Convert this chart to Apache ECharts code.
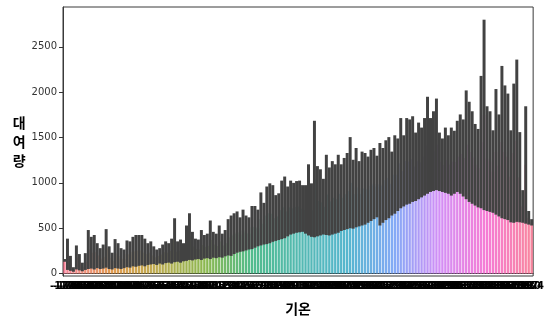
<!DOCTYPE html>
<html>
<head>
<meta charset="utf-8">
<script src="https://cdn.jsdelivr.net/npm/echarts@6/dist/echarts.min.js"></script>
<style>
  html, body { margin: 0; padding: 0; background: #fff; }
  #chart { width: 547px; height: 321px; }
</style>
</head>
<body>
<div id="chart"></div>
<script>
// upper end of the error bar per temperature category
const ciHigh = [
  160, 385, 195, 70, 310, 215, 120, 225, 480, 405,
  425, 335, 280, 320, 490, 300, 230, 380, 335, 280,
  265, 365, 355, 405, 425, 425, 425, 385, 335, 355,
  300, 265, 280, 320, 355, 335, 385, 610, 355, 375,
  335, 530, 665, 460, 385, 375, 480, 425, 440, 585,
  460, 440, 530, 440, 480, 600, 640, 665, 685, 620,
  705, 640, 620, 745, 745, 705, 895, 780, 960, 995,
  975, 865, 885, 1025, 1070, 960, 1025, 1000, 1020, 1025,
  975, 975, 1205, 995, 1685, 1185, 1150, 1045, 1310, 1170,
  1240, 1205, 1310, 1205, 1275, 1330, 1505, 1255, 1385, 1240,
  1345, 1330, 1290, 1365, 1385, 1300, 1440, 1385, 1470, 1505,
  1345, 1525, 1490, 1715, 1525, 1715, 1700, 1735, 1555, 1665,
  1610, 1715, 1950, 1715, 1790, 1930, 1555, 1490, 1610, 1525,
  1610, 1575, 1685, 1755, 1700, 2020, 1895, 1790, 1650, 1595,
  2180, 2800, 1845, 1790, 1580, 2035, 1755, 2290, 2075, 1985,
  1580, 2095, 2360, 1560, 920, 1845, 690, 600
];

// lower end of the error bar
const ciLow = [
  130, 40, 30, 20, 45, 35, 25, 40, 50, 55,
  45, 60, 50, 55, 65, 50, 45, 60, 55, 50,
  60, 70, 65, 80, 75, 85, 90, 80, 95, 100,
  105, 95, 110, 100, 115, 120, 110, 125, 130, 120,
  135, 140, 150, 145, 155, 160, 150, 165, 170, 160,
  175, 170, 180, 175, 190, 200, 195, 215, 230, 240,
  245, 255, 265, 270, 285, 300, 310, 320, 325, 335,
  350, 360, 370, 380, 390, 410, 430, 440, 450, 455,
  460, 440, 420, 405, 400, 410, 420, 430, 425, 420,
  430, 440, 450, 470, 480, 490, 500, 495, 510, 520,
  530, 540, 560, 580, 600, 620, 530, 560, 590, 610,
  640, 660, 690, 720, 740, 760, 770, 790, 800, 820,
  840, 860, 880, 900, 910, 920, 910, 900, 890, 880,
  860, 880, 900, 880, 850, 820, 790, 770, 750, 730,
  720, 700, 690, 680, 670, 650, 630, 610, 600, 590,
  565, 560, 570, 565, 560, 550, 540, 530
];

// mean rental count (bar height, mostly hidden under the error bars)
const meanRental = [
  145, 210, 110, 45, 175, 125, 75, 130, 265, 230,
  235, 200, 165, 185, 280, 175, 140, 220, 195, 165,
  160, 215, 210, 240, 250, 255, 255, 230, 215, 230,
  200, 180, 195, 210, 235, 230, 250, 370, 240, 250,
  235, 335, 410, 300, 270, 265, 315, 295, 305, 370,
  320, 305, 355, 310, 335, 400, 420, 440, 455, 430,
  475, 450, 440, 510, 515, 500, 600, 550, 640, 665,
  660, 610, 630, 700, 730, 685, 730, 720, 735, 740,
  715, 705, 810, 700, 1040, 800, 785, 735, 870, 795,
  835, 820, 880, 835, 875, 910, 1000, 875, 950, 880,
  940, 935, 925, 970, 990, 960, 985, 970, 1030, 1055,
  990, 1090, 1090, 1215, 1130, 1240, 1235, 1260, 1180, 1240,
  1225, 1290, 1415, 1310, 1350, 1425, 1235, 1195, 1250, 1200,
  1235, 1230, 1290, 1320, 1275, 1420, 1340, 1280, 1200, 1160,
  1450, 1750, 1270, 1235, 1125, 1340, 1190, 1450, 1340, 1290,
  1070, 1330, 1465, 1060, 740, 1200, 615, 565
];

const tempMin = -17.8;
const tempMax = 39.4;
const yTicks = [0, 500, 1000, 1500, 2000, 2500];

// seaborn husl palette anchors, wrapping back to the first hue
const huslAnchors = ['#f77189', '#dc8932', '#ae9d31', '#77ab31', '#33b07a',
  '#36ada4', '#38a9c5', '#6e9bf4', '#cc7af4', '#f565cc', '#f77189'];

const n = meanRental.length;
const temps = [];
for (let i = 0; i < n; i++) {
  temps.push((tempMin + i * (tempMax - tempMin) / (n - 1)).toFixed(1));
}

function hexToRgb(h) {
  return [1, 3, 5].map((k) => parseInt(h.slice(k, k + 2), 16));
}
function huslColor(i) {
  const t = (i / n) * (huslAnchors.length - 1);
  const k = Math.floor(t);
  const f = t - k;
  const a = hexToRgb(huslAnchors[k]);
  const b = hexToRgb(huslAnchors[k + 1]);
  const c = a.map((v, j) => Math.round(v + (b[j] - v) * f));
  return 'rgb(' + c.join(',') + ')';
}

const barData = meanRental.map((v, i) => ({ value: v, itemStyle: { color: huslColor(i), opacity: 0.85 } }));
const errData = ciLow.map((lo, i) => [i, lo, ciHigh[i]]);

const chart = echarts.init(document.getElementById('chart'), null, { renderer: 'canvas' });

chart.setOption({
  animation: false,
  grid: { left: 63, right: 13, top: 7, bottom: 35, show: true, borderColor: '#3a3a3a', borderWidth: 1 },
  xAxis: {
    type: 'category',
    data: temps,
    name: '기온',
    nameLocation: 'middle',
    nameGap: 26,
    nameTextStyle: { fontFamily: 'Noto Sans CJK KR', fontSize: 14, fontWeight: 'bold', color: '#000' },
    axisLine: { lineStyle: { color: '#3a3a3a', width: 1 } },
    axisTick: { interval: 0, length: 3, lineStyle: { color: '#222' } },
    axisLabel: { interval: 0, fontSize: 10, fontWeight: 'bold', color: '#000', margin: 5, fontFamily: 'DejaVu Sans' }
  },
  yAxis: {
    type: 'value',
    min: -27,
    max: 2940,
    name: '대\n여\n량',
    nameLocation: 'middle',
    nameRotate: 0,
    nameGap: 32,
    nameTextStyle: { fontFamily: 'Noto Sans CJK KR', fontSize: 14, fontWeight: 'bold', color: '#000', lineHeight: 19 },
    axisLine: { show: true, lineStyle: { color: '#3a3a3a', width: 1 } },
    axisTick: { show: true, length: 4, customValues: yTicks, lineStyle: { color: '#333' } },
    axisLabel: {
      customValues: yTicks,
      formatter: (v) => String(v),
      fontSize: 10, color: '#333', margin: 6, fontFamily: 'DejaVu Sans'
    },
    splitLine: { show: false }
  },
  series: [
    {
      type: 'bar',
      data: barData,
      barCategoryGap: '20%'
    },
    {
      type: 'custom',
      data: errData,
      encode: { x: 0, y: [1, 2] },
      renderItem: function (params, api) {
        const lo = api.coord([api.value(0), api.value(1)]);
        const hi = api.coord([api.value(0), api.value(2)]);
        const w = api.size([1, 0])[0];
        return {
          type: 'rect',
          shape: { x: lo[0] - w / 2, y: hi[1], width: w, height: lo[1] - hi[1] },
          style: { fill: '#424242' }
        };
      },
      z: 3
    }
  ]
});
</script>
</body>
</html>
